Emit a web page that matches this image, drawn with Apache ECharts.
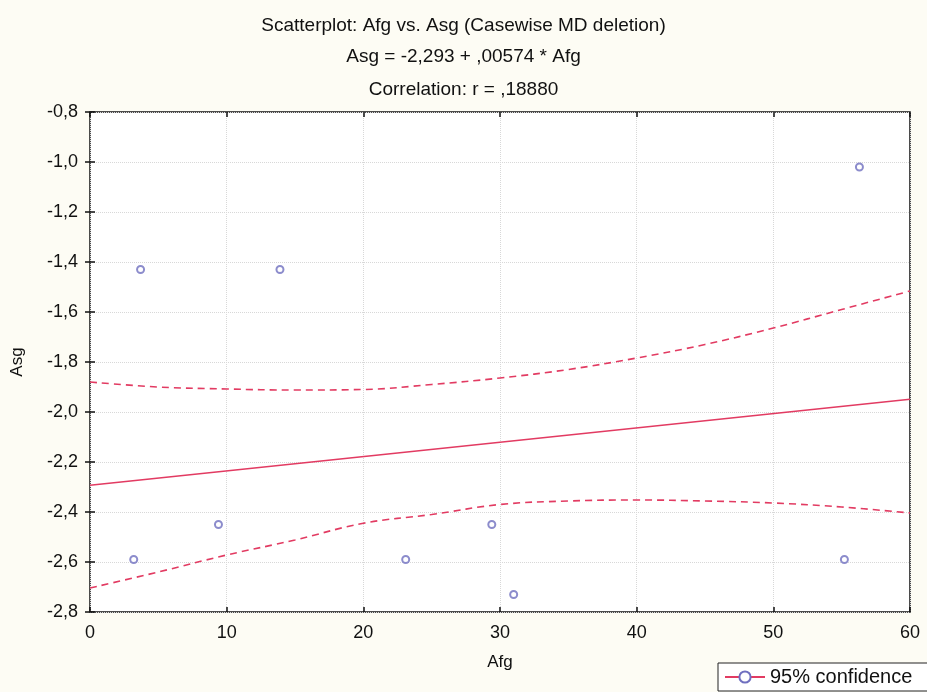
<!DOCTYPE html>
<html>
<head>
<meta charset="utf-8">
<script src="https://cdn.jsdelivr.net/npm/echarts@6/dist/echarts.min.js"></script>
<style>
  html, body { margin: 0; padding: 0; background: #fdfcf4; }
  #main { width: 927px; height: 692px; }
</style>
</head>
<body>
<div id="main"></div>
<script>
// data
var afg = [3.7, 13.9, 56.3, 3.2, 9.4, 23.1, 29.4, 31.0, 55.2];
var asg = [-1.43, -1.43, -1.02, -2.59, -2.45, -2.59, -2.45, -2.73, -2.59];

// regression: Asg = -2.293 + 0.00574 * Afg
var fitX = [0, 60];
var fitY = [-2.293, -1.949];

// 95% confidence band
var bandX = [0, 5, 10, 15, 20, 25, 30, 35, 40, 45, 50, 55, 60];
var upperY = [-1.88, -1.90, -1.908, -1.912, -1.91, -1.89, -1.864, -1.83, -1.784, -1.73, -1.664, -1.59, -1.516];
var lowerY = [-2.704, -2.64, -2.572, -2.512, -2.445, -2.41, -2.37, -2.356, -2.352, -2.356, -2.364, -2.38, -2.404];

var lineColor = '#e23b62';
var pointColor = '#6f6fbf';

function zip(xs, ys) {
  var out = [];
  for (var i = 0; i < xs.length; i++) out.push([xs[i], ys[i]]);
  return out;
}

var chart = echarts.init(document.getElementById('main'));

var titleStyle = { fontFamily: 'Liberation Sans', fontSize: 19, fontWeight: 'normal', color: '#111' };

chart.setOption({
  backgroundColor: '#fdfcf4',
  animation: false,
  title: [
    { text: 'Scatterplot: Afg vs. Asg (Casewise MD deletion)', left: 'center', top: 11, textStyle: titleStyle },
    { text: 'Asg = -2,293 + ,00574 * Afg', left: 'center', top: 42, textStyle: titleStyle },
    { text: 'Correlation: r = ,18880', left: 'center', top: 75, textStyle: titleStyle }
  ],
  legend: {
    data: ['95% confidence'],
    left: 718,
    top: 663,
    backgroundColor: '#fff',
    borderColor: '#222',
    borderWidth: 1,
    borderRadius: 0,
    padding: [4, 30, 4, 6],
    itemWidth: 40,
    itemHeight: 14,
    itemGap: 4,
    textStyle: { fontFamily: 'Liberation Sans', fontSize: 20, color: '#111' }
  },
  grid: {
    left: 90, right: 17, top: 112, bottom: 80,
    show: true,
    backgroundColor: '#fff',
    borderColor: '#111',
    borderWidth: 1.5
  },
  xAxis: [{
    type: 'value', min: 0, max: 60, interval: 10,
    name: 'Afg', nameLocation: 'middle', nameGap: 42,
    nameTextStyle: { fontFamily: 'Liberation Sans', fontSize: 17, color: '#111' },
    axisLine: { show: false },
    axisTick: { inside: true, length: 5, lineStyle: { color: '#111', width: 1.5 } },
    axisLabel: { fontFamily: 'Liberation Sans', fontSize: 18, color: '#111', margin: 12 },
    splitLine: { show: true, lineStyle: { color: '#d8d8d8', type: 'dotted', width: 1 } }
  }, {
    type: 'value', min: 0, max: 60, interval: 10, position: 'top',
    axisLine: { show: false },
    axisTick: { inside: true, length: 5, lineStyle: { color: '#111', width: 1.5 } },
    axisLabel: { show: false },
    splitLine: { show: false }
  }],
  yAxis: [{
    type: 'value', min: -2.8, max: -0.8, interval: 0.2,
    name: 'Asg', nameLocation: 'middle', nameGap: 64, nameRotate: 90,
    nameTextStyle: { fontFamily: 'Liberation Sans', fontSize: 17, color: '#111' },
    axisLine: { show: false },
    axisTick: { inside: true, length: 5, lineStyle: { color: '#111', width: 1.5 } },
    axisLabel: {
      fontFamily: 'Liberation Sans', fontSize: 18, color: '#111', margin: 12,
      formatter: function (v) { return v.toFixed(1).replace('.', ','); }
    },
    splitLine: { show: true, lineStyle: { color: '#d8d8d8', type: 'dotted', width: 1 } }
  }, {
    type: 'value', min: -2.8, max: -0.8, interval: 0.2, position: 'right',
    axisLine: { show: false },
    axisTick: { inside: true, length: 5, lineStyle: { color: '#111', width: 1.5 } },
    axisLabel: { show: false },
    splitLine: { show: false }
  }],
  series: [
    {
      name: '95% confidence',
      type: 'line',
      data: zip(fitX, fitY),
      symbol: 'emptyCircle',
      symbolSize: 8,
      showSymbol: false,
      itemStyle: { color: pointColor, borderColor: pointColor },
      lineStyle: { color: lineColor, width: 1.6 },
      z: 3
    },
    {
      name: 'upper',
      type: 'line',
      data: zip(bandX, upperY),
      smooth: 0.4,
      symbol: 'none',
      lineStyle: { color: lineColor, width: 1.6, type: [7, 5] },
      z: 3
    },
    {
      name: 'lower',
      type: 'line',
      data: zip(bandX, lowerY),
      smooth: 0.4,
      symbol: 'none',
      lineStyle: { color: lineColor, width: 1.6, type: [7, 5] },
      z: 3
    },
    {
      name: 'points',
      type: 'scatter',
      data: zip(afg, asg),
      symbol: 'emptyCircle',
      symbolSize: 7,
      itemStyle: { color: pointColor, borderColor: pointColor, borderWidth: 1.2 },
      z: 4
    }
  ]
});
</script>
</body>
</html>
